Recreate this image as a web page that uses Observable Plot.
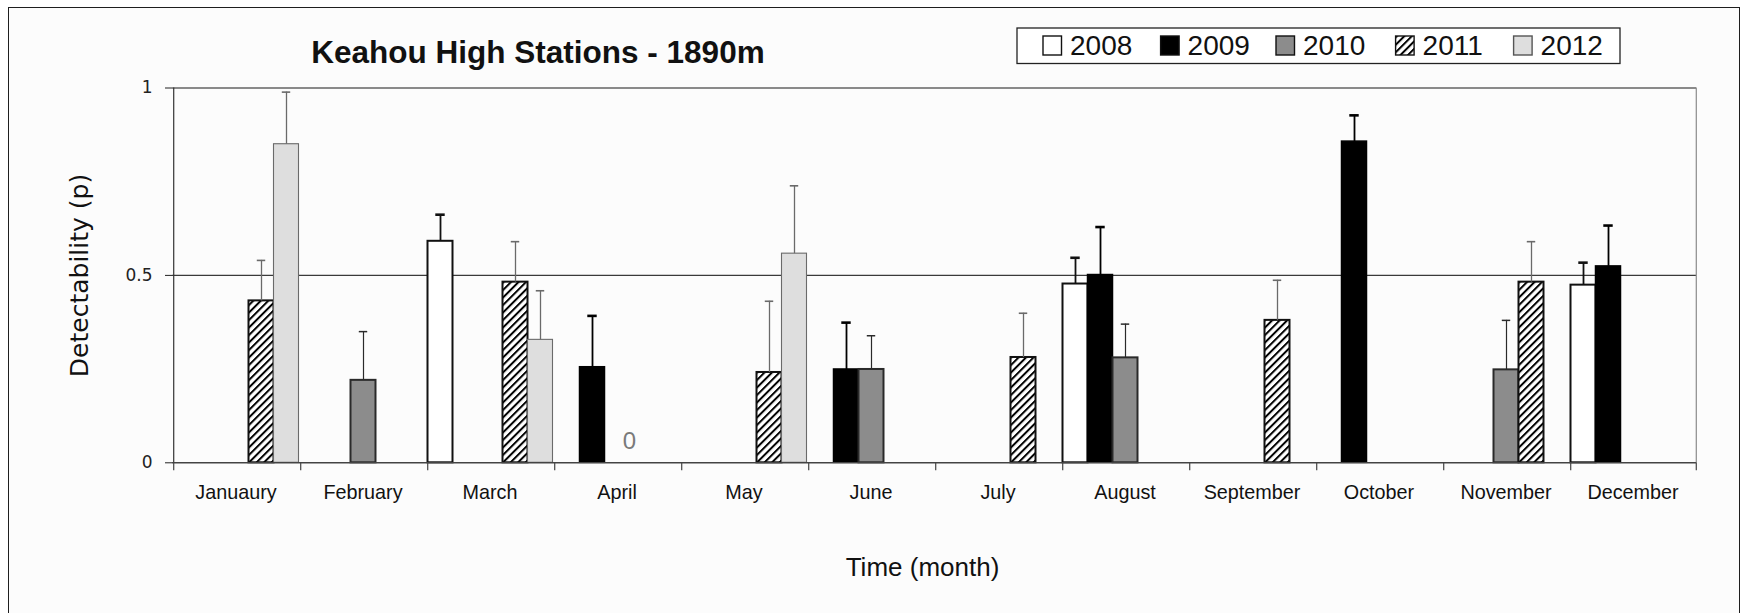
<!DOCTYPE html>
<html>
<head>
<meta charset="utf-8">
<script src="https://cdn.jsdelivr.net/npm/d3@7"></script>
<script src="https://cdn.jsdelivr.net/npm/@observablehq/plot@0.6"></script>
<style>
  html, body { margin: 0; padding: 0; background: #ffffff; }
  #page { position: relative; width: 1763px; height: 613px; overflow: hidden; }
  #border { position: absolute; left: 8px; top: 7px; width: 1732px; height: 700px; border: 1.6px solid #1e1e1e; background: #fcfcfc; box-sizing: border-box; }
  #chart { position: absolute; left: 0; top: 0; }
  #overlay { position: absolute; left: 0; top: 0; pointer-events: none; }
</style>
</head>
<body>
<div id="page">
  <div id="border"></div>
  <div id="chart"></div>
  <svg id="overlay" width="1763" height="613" xmlns="http://www.w3.org/2000/svg"></svg>
</div>
<script>
// ---------------- data ----------------
const months = ["Januaury", "February", "March", "April", "May", "June", "July", "August", "September", "October", "November", "December"];
const years = ["2008", "2009", "2010", "2011", "2012"];

// detectability p per month (null = no bar)
const p2008 = [null, null, 0.591, null, null, null, null, 0.477, null, null, null, 0.474];
const p2009 = [null, null, null, 0.255, null, 0.249, null, 0.501, null, 0.857, null, 0.524];
const p2010 = [null, 0.220, null, 0, null, 0.249, null, 0.280, null, null, 0.248, null];
const p2011 = [0.432, null, 0.482, null, 0.241, null, 0.281, null, 0.380, null, 0.482, null];
const p2012 = [0.850, null, 0.328, null, 0.558, null, null, null, null, null, null, null];

// upper error (SE) per month
const e2008 = [null, null, 0.071, null, null, null, null, 0.070, null, null, null, 0.060];
const e2009 = [null, null, null, 0.137, null, 0.125, null, 0.128, null, 0.070, null, 0.109];
const e2010 = [null, 0.130, null, null, null, 0.090, null, 0.090, null, null, 0.132, null];
const e2011 = [0.108, null, 0.108, null, 0.190, null, 0.118, null, 0.107, null, 0.108, null];
const e2012 = [0.139, null, 0.131, null, 0.181, null, null, null, null, null, null, null];

const yTicks = [0, 0.5, 1];

const titleText = "Keahou High Stations - 1890m";
const xLabel = "Time (month)";
const yLabel = "Detectability (p)";

// ---------------- build table ----------------
const pByYear = [p2008, p2009, p2010, p2011, p2012];
const eByYear = [e2008, e2009, e2010, e2011, e2012];
const rows = [];
years.forEach((yr, j) => {
  months.forEach((m, i) => {
    if (pByYear[j][i] != null) rows.push({month: m, year: yr, p: pByYear[j][i], err: eByYear[j][i]});
  });
});

const yearStyle = {
  "2008": {fill: "#ffffff", stroke: "#111111", sw: 2, err: "#111111", ew: 1.8, cw: 2.6, cap: 10},
  "2009": {fill: "#000000", stroke: "#000000", sw: 1.5, err: "#000000", ew: 1.8, cw: 2.6, cap: 10},
  "2010": {fill: "#8c8c8c", stroke: "#2a2a2a", sw: 2, err: "#2a2a2a", ew: 1.2, cw: 1.5, cap: 9},
  "2011": {fill: "url(#hatch2011)", stroke: "#111111", sw: 2, err: "#6a6a6a", ew: 1.3, cw: 1.6, cap: 9},
  "2012": {fill: "#dedede", stroke: "#6a6a6a", sw: 1.1, err: "#6a6a6a", ew: 1.3, cw: 1.6, cap: 9}
};

// ---------------- layout ----------------
const W = 1763, H = 613;
const ML = 166.5, MR = 62, MT = 87.5, MB = 150.7;
const bw = (W - ML - MR) / (months.length * years.length);

const yearMarks = years.flatMap(yr => {
  const s = yearStyle[yr];
  const d = rows.filter(r => r.year === yr && r.p > 0);
  const de = d.filter(r => r.err != null);
  return [
    Plot.barY(d, {fx: "month", x: "year", y: "p", fill: s.fill, stroke: s.stroke, strokeWidth: s.sw}),
    Plot.ruleX(de, {fx: "month", x: "year", y1: "p", y2: r => r.p + r.err, stroke: s.err, strokeWidth: s.ew}),
    Plot.tickY(de, {fx: "month", x: "year", y: r => r.p + r.err, stroke: s.err, strokeWidth: s.cw,
      insetLeft: (bw - s.cap) / 2, insetRight: (bw - s.cap) / 2})
  ];
});

const zeroRows = rows.filter(r => r.p === 0);
const boundaries = months.map(m => ({month: m, year: years[0]}));
const lastBoundary = [{month: months[months.length - 1], year: years[years.length - 1]}];

const chart = Plot.plot({
  width: W, height: H,
  marginLeft: ML, marginRight: MR, marginTop: MT, marginBottom: MB,
  style: {background: "transparent", color: "#1a1a1a", fontFamily: "Liberation Sans", overflow: "visible"},
  fx: {domain: months, padding: 0, axis: null, label: null},
  x: {domain: years, padding: 0, axis: null},
  y: {domain: [0, 1], axis: null},
  marks: [
    Plot.ruleY([0.5], {stroke: "#3a3a3a", strokeWidth: 1.1}),
    ...yearMarks,
    Plot.text(zeroRows, {fx: "month", x: "year", y: "p", text: d => String(d.p), dx: 12, dy: -21,
      fill: "#7a7a7a", fontSize: 24, fontFamily: "Liberation Sans"}),
    Plot.ruleY([1], {stroke: "#8a8a8a", strokeWidth: 2}),
    Plot.ruleY([0], {stroke: "#444444", strokeWidth: 1.5}),
    // left axis line & right border
    Plot.ruleX(boundaries.slice(0, 1), {fx: "month", x: "year", y1: 0, y2: 1, dx: -bw / 2, stroke: "#333333", strokeWidth: 1.2}),
    Plot.ruleX(lastBoundary, {fx: "month", x: "year", y1: 0, y2: 1, dx: bw / 2, stroke: "#8a8a8a", strokeWidth: 1.2}),
    // month boundary ticks
    Plot.ruleX(boundaries, {fx: "month", x: "year", y1: 0, y2: 0, insetBottom: -8, dx: -bw / 2, stroke: "#444444", strokeWidth: 1.2}),
    Plot.ruleX(lastBoundary, {fx: "month", x: "year", y1: 0, y2: 0, insetBottom: -8, dx: bw / 2, stroke: "#444444", strokeWidth: 1.2}),
    Plot.axisY({ticks: yTicks, tickFormat: d => String(d), tickSize: 7, tickPadding: 13,
      fontSize: 17, fontFamily: "DejaVu Sans", label: null, color: "#222222"}),
    Plot.axisFx({anchor: "bottom", tickSize: 0, tickPadding: 22, fontSize: 19.8, fontFamily: "Liberation Sans",
      label: null, color: "#111111"})
  ]
});

// hatch pattern for 2011
const NS = "http://www.w3.org/2000/svg";
function addHatch(svg, id) {
  const defs = document.createElementNS(NS, "defs");
  const pat = document.createElementNS(NS, "pattern");
  pat.setAttribute("id", id);
  pat.setAttribute("patternUnits", "userSpaceOnUse");
  pat.setAttribute("width", "5.3");
  pat.setAttribute("height", "5.3");
  pat.setAttribute("patternTransform", "rotate(45)");
  const bg = document.createElementNS(NS, "rect");
  bg.setAttribute("width", "5.3"); bg.setAttribute("height", "5.3"); bg.setAttribute("fill", "#ffffff");
  const st = document.createElementNS(NS, "rect");
  st.setAttribute("width", "2"); st.setAttribute("height", "5.3"); st.setAttribute("fill", "#000000");
  pat.appendChild(bg); pat.appendChild(st);
  defs.appendChild(pat);
  svg.insertBefore(defs, svg.firstChild);
}
addHatch(chart, "hatch2011");
document.getElementById("chart").appendChild(chart);

// ---------------- overlay: title, legend, axis titles ----------------
const ov = document.getElementById("overlay");
addHatch(ov, "hatchLegend");
function el(tag, attrs, text) {
  const e = document.createElementNS(NS, tag);
  for (const k in attrs) e.setAttribute(k, attrs[k]);
  if (text != null) e.textContent = text;
  ov.appendChild(e);
  return e;
}
el("text", {x: 538, y: 63.3, "text-anchor": "middle", "font-family": "Liberation Sans", "font-weight": "bold",
  "font-size": 31.5, fill: "#111"}, titleText);
el("text", {x: 922.5, y: 576, "text-anchor": "middle", "font-family": "Liberation Sans", "font-size": 26, fill: "#111"}, xLabel);
el("text", {transform: "translate(88,275.5) rotate(-90)", "text-anchor": "middle", "font-family": "DejaVu Sans",
  "font-size": 25, fill: "#111"}, yLabel);

// legend
el("rect", {x: 1017, y: 28, width: 603, height: 35.5, fill: "#ffffff", stroke: "#222", "stroke-width": 1.3});
const legSwatchX = [1043, 1160.6, 1276, 1395.6, 1513.6];
years.forEach((yr, j) => {
  const s = yearStyle[yr];
  const fill = yr === "2011" ? "url(#hatchLegend)" : s.fill;
  el("rect", {x: legSwatchX[j], y: 36, width: 18.5, height: 19, fill, stroke: yr === "2012" ? "#555" : "#111", "stroke-width": 1.4});
  el("text", {x: legSwatchX[j] + 27, y: 55, "font-family": "Liberation Sans", "font-size": 28, fill: "#111"}, yr);
});
</script>
</body>
</html>
